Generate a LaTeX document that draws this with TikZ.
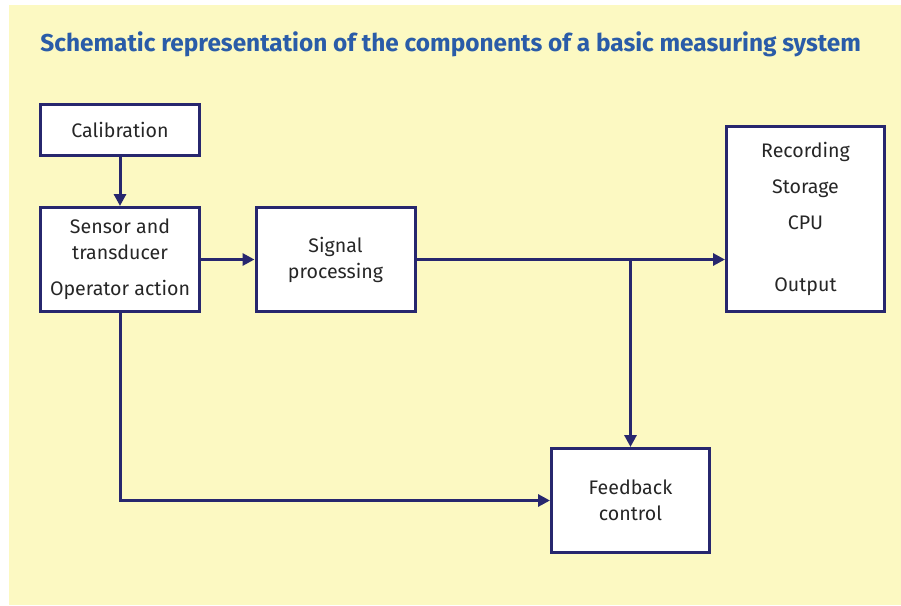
\documentclass[tikz,border=0pt]{standalone}
\usepackage{fontspec}
\setmainfont{Fira Sans}
\usepackage{xcolor}
\usetikzlibrary{arrows.meta,positioning}
\definecolor{bgyellow}{HTML}{FCF9C2}
\definecolor{boxnavy}{HTML}{27276E}
\definecolor{titleblue}{HTML}{2A5CA8}

\begin{document}
\begin{tikzpicture}[
    x=0.5pt, y=-0.5pt,
    unit/.style={rectangle, draw=boxnavy, line width=1.5pt, fill=white,
                 minimum width=79.5pt, font=\fontsize{9.8}{13}\selectfont,
                 align=center, text=black!85, inner sep=0pt},
    flow/.style={draw=boxnavy, line width=1.5pt, -{Triangle[length=6pt,width=6pt]}},
]
    % Background
    \fill[bgyellow] (9,5) rectangle (901,605);
    \useasboundingbox (0,0) rectangle (901,606);

    % Title
    \node[anchor=base west, inner sep=0pt, text=titleblue,
          font=\fontsize{12.2}{14}\selectfont\bfseries] (title) at (40,51)
         {Schematic representation of the components of a basic measuring system};

    % Blocks
    \node[unit, minimum height=25.5pt] (calib) at (120,130) {Calibration};
    \node[unit, minimum height=52pt] (sensor) at (120,259.5)
         {Sensor and\\transducer\\[5pt]Operator action};
    \node[unit, minimum height=52pt] (signal) at (335.5,259.5) {Signal\\processing};
    \node[unit, minimum width=79pt, minimum height=92.5pt] (record) at (805.5,219)
         {Recording\\[5pt]Storage\\[5pt]CPU\\[18pt]Output};
    \node[unit, minimum width=79pt, minimum height=52pt] (feedback) at (630.5,500.5)
         {Feedback\\control};

    % Branch point
    \coordinate (split) at (feedback.north |- signal.east);

    % Arrows
    \draw[flow] (calib) -- (sensor);
    \draw[flow] (sensor.east) -- (signal.west);
    \draw[flow] (signal.east) -- (signal.east -| record.west);
    \draw[flow] (split) -- (feedback.north);
    \draw[flow] (sensor.south) |- (feedback.west);
\end{tikzpicture}
\end{document}
